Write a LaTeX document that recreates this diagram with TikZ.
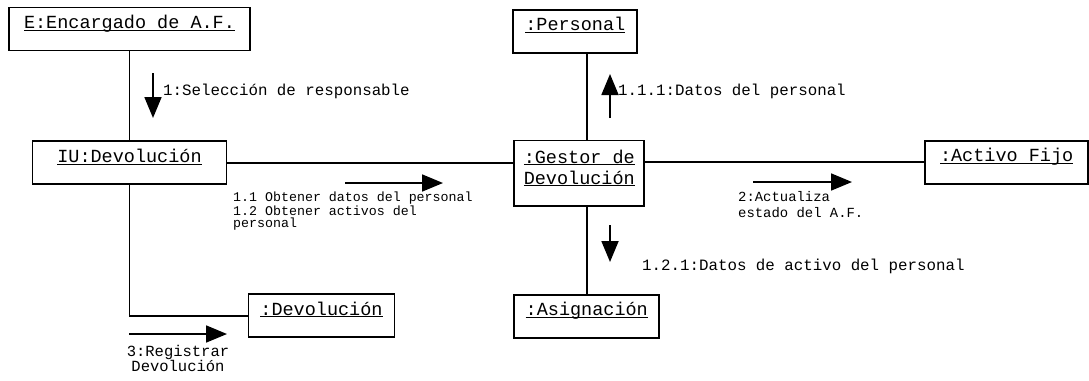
\documentclass[tikz,border=0pt]{standalone}
\usepackage{fontspec}
\setmainfont{Liberation Mono}
\usetikzlibrary{positioning,arrows.meta}
\newcommand{\obj}[1]{\underline{\smash{#1}}}

\begin{document}
\begin{tikzpicture}[
  x=1pt, y=1pt,
  box/.style={draw, line width=1.8pt, inner xsep=0pt, inner ysep=0pt, text height=21pt, text depth=22pt, font=\fontsize{18.5}{21}\selectfont},
  link/.style={line width=1.8pt},
  msg/.style={-{Triangle[length=21pt,width=17pt]}, line width=1.8pt},
  lbl/.style={inner sep=0pt, font=\fontsize{15.8}{15}\selectfont}
]
\useasboundingbox (0,0) rectangle (1089,-380);
\node[box, minimum width=241pt](enc) at (129.5,-29){\obj{E:Encargado de A.F.}};
\node[box, minimum width=194pt, below=89pt of enc](iu){\obj{IU:Devolución}};
\node[box, minimum width=130pt, align=center, text height=43.5pt, text depth=22pt, right=286pt of iu, yshift=-10.5pt](gestor){\obj{:Gestor de}\\\obj{Devolución}};
\node[box, minimum width=124pt, above=86pt of gestor, xshift=-4pt](per){\obj{:Personal}};
\node[box, minimum width=145pt, below=87pt of gestor, xshift=7.5pt](asg){\obj{:Asignación}};
\node[box, minimum width=163pt, right=279pt of gestor, yshift=11pt](act){\obj{:Activo Fijo}};
\node[box, minimum width=146pt, below=108pt of iu, xshift=192pt](dev){\obj{:Devolución}};

\draw[link] (enc)--(iu);
\draw[link] (iu.east)--(iu.east -| gestor.west);
\draw[link] ([xshift=8pt]gestor.north)--([xshift=8pt]gestor.north |- per.south);
\draw[link] (asg.north)--(asg.north |- gestor.south);
\draw[link] (act.west)--(act.west -| gestor.east);
\draw[link] (iu.south)|-(dev.west);

% mensajes
\coordinate (m1a) at (153,-73);  \coordinate (m1b) at (153,-118);
\coordinate (m2a) at (610,-118); \coordinate (m2b) at (610,-74);
\coordinate (m3a) at (345,-183); \coordinate (m3b) at (443,-183);
\coordinate (m4a) at (753,-182); \coordinate (m4b) at (852,-182);
\coordinate (m5a) at (610,-225); \coordinate (m5b) at (610,-262);
\coordinate (m6a) at (129,-334); \coordinate (m6b) at (227,-334);
\draw[msg] (m1a)--(m1b);
\draw[msg] (m2a)--(m2b);
\draw[msg] (m3a)--(m3b);
\draw[msg] (m4a)--(m4b);
\draw[msg] (m5a)--(m5b);
\draw[msg] (m6a)--(m6b);

\node[lbl, anchor=base west](t1) at (163,-95){1:Selección de responsable};
\node[lbl, anchor=base west](t2) at (618,-95){1.1.1:Datos del personal};
\node[lbl, font=\fontsize{13.3}{12}\selectfont, align=left, anchor=north west](t3) at (233,-192){1.1 Obtener datos del personal\\1.2 Obtener activos del\\personal};
\node[lbl, font=\fontsize{13.9}{16}\selectfont, align=left, anchor=north west](t4) at (738,-191){2:Actualiza\\estado del A.F.};
\node[lbl, anchor=base west](t5) at (642,-270){1.2.1:Datos de activo del personal};
\node[lbl, font=\fontsize{15.5}{15}\selectfont, align=center, anchor=north](t6) at (178,-345){3:Registrar\\Devolución};
\end{tikzpicture}
\end{document}
